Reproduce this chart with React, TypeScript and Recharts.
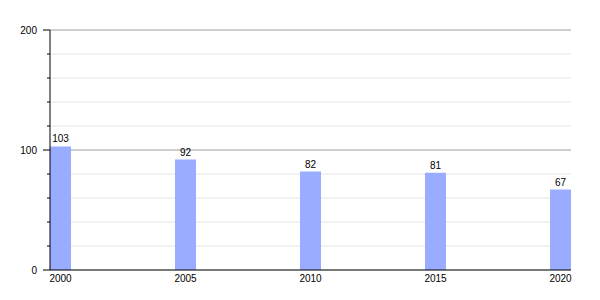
import { Bar, BarChart, CartesianGrid, LabelList, XAxis, YAxis } from "recharts"

const years = [2000, 2005, 2010, 2015, 2020]
const values = [103, 92, 82, 81, 67]
const yTicks = [0, 20, 40, 60, 80, 100, 120, 140, 160, 180, 200]
const majorTicks = [0, 100, 200]

const data = years.map((year, i) => ({ year, value: values[i] }))

const font = "'Liberation Sans', Arial, sans-serif"

// y ticks: long mark + label on majors, short mark on minors
function YTick(props: any) {
  const { x, y, payload } = props
  const major = majorTicks.includes(payload.value)
  return (
    <g>
      <line x1={x - (major ? 7 : 3)} x2={x} y1={y} y2={y} stroke="#000" />
      {major && (
        <text x={x - 13} y={y} dy={4} textAnchor="end" fontSize={10} fontFamily={font} fill="#000">
          {payload.value}
        </text>
      )}
    </g>
  )
}

export default function App() {
  return (
    <div style={{ position: "absolute", left: 0, top: 0, background: "#fff" }}>
      <BarChart width={600} height={300} data={data} margin={{ top: 30, right: 29, left: 0, bottom: 10 }}>
        <CartesianGrid vertical={false} stroke="#e4e4e4" />
        <CartesianGrid vertical={false} horizontalValues={[100, 200]} stroke="#ababab" />
        <XAxis
          dataKey="year"
          type="number"
          domain={[1999.58, 2020.42]}
          ticks={years}
          interval={0}
          tickLine={false}
          tickSize={3}
          tickMargin={2}
          axisLine={{ stroke: "#000" }}
          tick={{ fontSize: 10, fontFamily: font, fill: "#000" }}
          height={20}
        />
        <YAxis
          domain={[0, 200]}
          ticks={yTicks}
          interval={0}
          width={50}
          tickSize={0}
          tickMargin={0}
          tickLine={false}
          axisLine={{ stroke: "#000" }}
          tick={<YTick />}
        />
        <Bar dataKey="value" fill="#9aacff" barSize={21} isAnimationActive={false}>
          <LabelList dataKey="value" position="top" offset={4} fontSize={10} fontFamily={font} fill="#000" />
        </Bar>
      </BarChart>
    </div>
  )
}
